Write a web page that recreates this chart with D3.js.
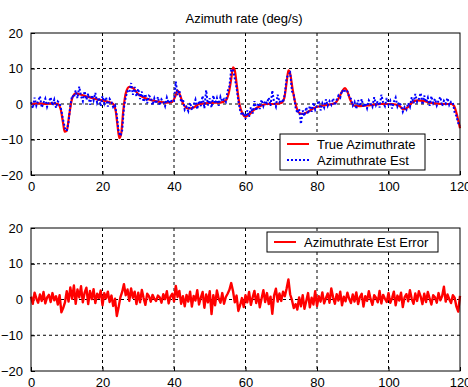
<!DOCTYPE html>
<html>
<head>
<meta charset="utf-8">
<script src="https://cdn.jsdelivr.net/npm/d3@7"></script>
<style>
	body { margin: 0; background: #fff; }
	text { font-family: "Liberation Sans", Arial, sans-serif; fill: #000; }
</style>
</head>
<body>
<div id="chart"></div>
<script>
// true azimuth rate, read at uneven times (s)
const trueTime = [0,2,4,6,7.5,8.3,9,9.4,10,10.7,
	11.5,12.5,14,16,18,20,22,23,23.7,24.2,
	24.7,25.2,25.8,26.5,27.5,28.5,30,32,34,36,
	38,39.5,40.3,41,41.7,42.5,44,45.5,47,50,
	53,54.5,55.3,56,56.5,57,57.6,58.3,59.2,60,
	61,62.5,64,66,68,70,70.8,71.5,72,72.5,
	73.2,74,75,76,77.5,79,81,83,85,86,
	87,87.8,88.5,89.3,90.5,92,95,98,101,103,
	104.2,105.5,106.5,108,110,112,115,117.5,118.3,119,
	119.6,120];
const trueRate = [0,0.2,0,0.2,0,-1.5,-5.5,-7.8,-7.5,-3,
	1.5,3,2.6,2,1.4,1,0.5,0,-2,-6,
	-9.6,-8.5,-2,3,4.8,4.5,2.8,1.6,1.0,0.6,
	0.4,0.6,2,3.8,2.5,0.2,-1.3,-1,0,0.3,
	0.4,1,3,7,10.3,9.5,5,0,-2.8,-3.6,
	-3,-1.5,-0.6,0,0,0.3,1.5,6,9.5,8.5,
	4,0,-2.5,-2.8,-2.2,-1.2,-0.6,-0.2,0.2,1.5,
	3.5,4.5,3.5,1.2,-0.5,-0.6,-0.3,0,0,-0.5,
	-1.5,-0.8,0.3,1,0.8,0.3,0,0,-0.5,-2.5,
	-5,-6.8];

// estimate and error, one sample every 0.5 s from t=0
const sampleStep = 0.5;
const estRate = [0.5,-1.2,1.8,-0.5,0.8,2.2,-1.0,0.3,1.5,-0.8,0.6,1.9,-0.4,1.2,-1.1,0.7,0.2,
	-1.8,-4.6,-6.8,-7.6,-5.2,-0.5,2.4,1.8,
	3.8,1.6,4.9,2.2,0.8,3.6,1.2,2.9,-0.2,2.5,1.0,3.1,0.4,1.8,-0.6,2.2,
	0.2,1.9,-0.7,1.4,0.6,-0.9,-0.4,
	-3.2,-7.8,-9.0,-7.5,-1.0,2.0,3.6,
	3.2,5.9,2.6,4.8,2.1,4.3,1.4,3.5,0.6,2.8,0.2,2.3,1.9,-0.3,
	1.6,0.1,2.0,-0.4,1.3,0.7,-0.6,1.8,0.2,1.2,0.5,
	0.8,6.3,2.5,3.9,0.5,1.4,-1.6,
	-0.8,-2.0,0.4,-1.7,-0.3,1.2,-1.5,0.9,-0.6,2.3,-1.2,3.9,-0.4,1.6,-1.0,2.4,0.1,1.7,-0.5,2.0,0.7,
	1.4,0.6,3.6,5.0,9.6,9.8,7.2,4.6,0.8,-1.8,-3.2,
	-2.4,-4.2,-1.8,-3.6,-0.9,-2.7,0.8,-1.9,0.3,-1.4,1.2,-0.6,0.9,0.2,
	1.8,-0.5,3.8,0.4,-0.8,2.6,0.5,1.2,
	0.4,2.8,7.4,8.2,8.8,3.6,2.6,-0.9,
	-2.6,-1.4,-5.6,-1.8,-3.4,-0.9,-2.8,-0.5,-2.2,0.4,-1.6,-0.4,
	0.9,-1.8,0.2,-1.0,1.3,-0.5,0.8,-0.2,1.6,-0.4,
	1.2,2.4,1.8,3.9,3.2,4.0,3.6,2.0,1.5,-0.4,
	0.6,-1.4,1.1,-0.6,1.4,-0.9,0.3,-1.2,1.0,0.1,-0.8,1.9,-0.3,0.8,-1.0,2.6,0.4,-0.6,1.7,-0.2,0.9,-1.3,0.6,1.8,-0.7,0.5,
	-0.4,-2.2,-0.9,-1.6,0.3,-0.8,
	1.9,0.2,2.8,0.6,1.4,3.1,-0.2,2.4,0.5,1.8,-0.5,2.2,0.3,1.5,-0.4,1.0,2.0,-0.6,0.9,0.1,1.7,-0.3,0.6,
	0.4,-2.4,-3.4,-5.4,-6.2];

const errRate = [0.8,-1.2,1.9,0.3,-0.9,1.4,-0.4,2.1,-1.1,0.6,1.3,-0.7,1.8,-0.2,0.9,-1.4,1.2,-3.6,-2.4,-0.8,
	2.3,-0.6,3.4,0.2,3.9,-1.2,2.8,0.6,3.7,-0.8,1.9,3.3,-1.3,2.4,0.1,2.9,-1.0,1.6,0.4,2.5,
	-1.6,1.8,0.3,2.2,-0.7,1.1,-1.8,0.2,-4.6,-2.2,0.6,2.1,4.3,1.2,2.8,-0.4,3.1,0.5,2.2,-1.3,
	1.9,-0.8,2.7,0.4,-1.5,1.6,0.9,-0.6,1.3,0.2,-0.4,1.1,0.6,-0.9,1.5,0.1,2.3,-1.1,0.8,1.6,
	-0.5,3.8,0.7,2.4,-1.2,0.9,-1.9,1.3,-0.6,2.2,-2.0,1.0,-0.3,2.6,-1.4,0.5,2.1,-2.3,1.4,-0.8,
	2.3,-4.1,1.2,-1.6,2.5,0.3,-0.9,1.8,-1.2,0.7,1.6,2.7,4.6,2.4,-0.8,1.1,-3.2,-1.6,0.4,-2.1,
	1.2,-0.8,2.1,-1.5,0.6,2.4,-1.0,1.5,-2.2,0.3,2.6,-0.7,1.8,-1.3,0.8,-4.0,1.1,3.0,-0.6,1.7,
	-0.4,2.2,0.9,3.1,5.6,1.4,-0.2,-2.4,-1.3,-2.8,0.6,-1.9,1.2,-2.6,-0.4,1.8,-2.2,0.5,-1.4,2.3,
	-1.8,0.9,-0.6,2.0,-1.1,0.4,1.7,-0.9,3.1,0.6,-1.2,1.5,-0.3,2.2,-1.6,0.8,-0.5,1.9,0.2,-1.0,
	1.4,-0.6,2.0,-1.3,0.7,1.6,-2.0,0.9,-0.4,2.3,0.1,-1.5,1.2,0.5,-0.8,2.4,-1.1,1.3,0.2,-0.7,
	1.8,-0.9,0.4,2.2,-1.6,1.1,-0.3,1.9,-2.1,0.6,1.5,-0.5,2.6,0.2,-1.2,1.7,-0.4,2.3,0.8,-1.3,
	1.6,-0.7,2.1,0.3,-1.4,1.2,0.6,-0.9,1.8,-0.2,0.9,3.6,-0.6,1.4,0.1,-1.0,1.2,0.5,-2.0,-3.4,
	1.0];

const xTicks = [0, 20, 40, 60, 80, 100, 120];
const yTicks = [-20, -10, 0, 10, 20];
const titleText = 'Azimuth rate (deg/s)';
const topLegend = ['True Azimuthrate', 'Azimuthrate Est'];
const bottomLegend = ['Azimuthrate Est Error'];

const W = 468, H = 387;
const FS = 13;
const svg = d3.select('#chart').append('svg')
	.attr('width', W).attr('height', H);
svg.append('rect').attr('width', W).attr('height', H).attr('fill', '#fff');

const x = d3.scaleLinear().domain([0, 120]).range([31, 460]);

function panel(top, bottom) {
	const y = d3.scaleLinear().domain([-20, 20]).range([bottom, top]);
	const g = svg.append('g');

	// grid
	g.selectAll('.vgrid').data(xTicks.slice(1, -1)).enter()
		.append('line')
		.attr('x1', d => x(d)).attr('x2', d => x(d))
		.attr('y1', top).attr('y2', bottom)
		.attr('stroke', '#000').attr('stroke-width', 1)
		.attr('stroke-dasharray', '3,3');
	g.selectAll('.hgrid').data(yTicks.slice(1, -1)).enter()
		.append('line')
		.attr('x1', x(0)).attr('x2', x(120))
		.attr('y1', d => y(d)).attr('y2', d => y(d))
		.attr('stroke', '#000').attr('stroke-width', 1)
		.attr('stroke-dasharray', '3,3');

	// tick labels
	const ya = g.append('g')
		.attr('transform', 'translate(' + x(0) + ',0)')
		.call(d3.axisLeft(y).tickValues(yTicks).tickSize(-4).tickPadding(8));
	const xa = g.append('g')
		.attr('transform', 'translate(0,' + bottom + ')')
		.call(d3.axisBottom(x).tickValues(xTicks).tickSize(-4).tickPadding(7));
	[ya, xa].forEach(a => {
		a.select('.domain').remove();
		a.selectAll('.tick line').attr('stroke', '#000');
		a.selectAll('text').attr('font-size', FS)
			.style('font-family', '"Liberation Sans", Arial, sans-serif');
	});
	return { g: g, y: y, top: top, bottom: bottom };
}

function frame(p) {
	p.g.append('rect')
		.attr('x', x(0)).attr('y', p.top)
		.attr('width', x(120) - x(0)).attr('height', p.bottom - p.top)
		.attr('fill', 'none').attr('stroke', '#000').attr('stroke-width', 1);
}

function legend(p, items, bx, by, bw, bh) {
	const lg = p.g.append('g');
	lg.append('rect')
		.attr('x', bx).attr('y', by).attr('width', bw).attr('height', bh)
		.attr('fill', '#fff').attr('stroke', '#000').attr('stroke-width', 1);
	items.forEach((it, i) => {
		const cy = by + 10 + i * 16;
		lg.append('line')
			.attr('x1', bx + 7).attr('x2', bx + 29)
			.attr('y1', cy).attr('y2', cy)
			.attr('stroke', it.color).attr('stroke-width', 2)
			.attr('stroke-dasharray', it.dash || null);
		lg.append('text')
			.attr('x', bx + 37).attr('y', cy + 4.5)
			.attr('font-size', FS)
			.text(it.label);
	});
}

// top panel
const p1 = panel(33, 175);
svg.append('text')
	.attr('x', 244).attr('y', 23)
	.attr('text-anchor', 'middle')
	.attr('font-size', FS)
	.text(titleText);

const trueLine = d3.line()
	.x((d, i) => x(trueTime[i]))
	.y(d => p1.y(d))
	.curve(d3.curveMonotoneX);
const sampleLine = function (yScale) {
	return d3.line()
		.x((d, i) => x(i * sampleStep))
		.y(d => yScale(d));
};

p1.g.append('path')
	.attr('d', trueLine(trueRate))
	.attr('fill', 'none').attr('stroke', '#ff0000').attr('stroke-width', 2.2);
p1.g.append('path')
	.attr('d', sampleLine(p1.y)(estRate))
	.attr('fill', 'none').attr('stroke', '#0000ff').attr('stroke-width', 2)
	.attr('stroke-dasharray', '2,2');
frame(p1);
legend(p1, [
	{ label: topLegend[0], color: '#ff0000' },
	{ label: topLegend[1], color: '#0000ff', dash: '2,2' }
], 280, 134, 145, 36);

// bottom panel
const p2 = panel(228, 371);
p2.g.append('path')
	.attr('d', sampleLine(p2.y)(errRate))
	.attr('fill', 'none').attr('stroke', '#ff0000').attr('stroke-width', 2.4)
	.attr('stroke-linejoin', 'round');
frame(p2);
legend(p2, [
	{ label: bottomLegend[0], color: '#ff0000' }
], 267, 232, 171, 20);
</script>
</body>
</html>
